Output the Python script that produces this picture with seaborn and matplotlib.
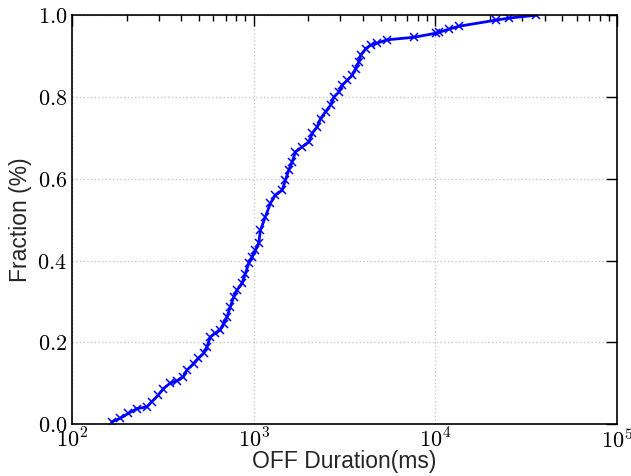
import math
import matplotlib
matplotlib.use('Agg')
import matplotlib.pyplot as plt
import matplotlib.ticker as mticker
import pandas as pd
import seaborn as sns

# OFF durations (ms) and cumulative fraction
off_ms = [166, 184, 204, 228, 258, 275, 299, 319, 347, 378, 411, 429, 467,
          497, 530, 553, 577, 615, 655, 683, 713, 744, 776, 810, 863, 900,
          938, 980, 1022, 1066, 1089, 1160, 1236, 1317, 1435, 1496, 1560,
          1629, 1698, 1849, 2011, 2100, 2238, 2333, 2486, 2649, 2763, 2945,
          3073, 3275, 3488, 3637, 3793, 3877, 4131, 4401, 4792, 5442,
          7601, 10050, 10440, 11860, 13460, 21540, 25400, 35800]
fraction = [0.006, 0.014, 0.026, 0.038, 0.042, 0.055, 0.071, 0.087, 0.100,
            0.106, 0.116, 0.132, 0.148, 0.161, 0.173, 0.189, 0.213, 0.222,
            0.230, 0.246, 0.262, 0.287, 0.311, 0.328, 0.344, 0.368, 0.393,
            0.409, 0.425, 0.442, 0.474, 0.507, 0.540, 0.560, 0.572, 0.597,
            0.621, 0.641, 0.666, 0.678, 0.690, 0.711, 0.727, 0.747, 0.764,
            0.780, 0.800, 0.812, 0.829, 0.841, 0.853, 0.869, 0.886, 0.902,
            0.918, 0.927, 0.932, 0.940, 0.946, 0.956, 0.958, 0.966, 0.973,
            0.988, 0.993, 1.0]

df = pd.DataFrame({'off': off_ms, 'frac': fraction})

sns.set_style('white')
plt.rcParams['mathtext.fontset'] = 'cm'
plt.rcParams['font.family'] = ['Liberation Sans', 'DejaVu Sans']
plt.rcParams['xtick.direction'] = 'in'
plt.rcParams['ytick.direction'] = 'in'

fig, ax = plt.subplots(figsize=(6.31, 4.76), dpi=100)
fig.subplots_adjust(left=0.114, right=0.978, top=0.968, bottom=0.109)

sns.lineplot(data=df, x='off', y='frac', ax=ax, color='#0000ff', linewidth=2,
             marker='x', markersize=6, markeredgewidth=1.1,
             markeredgecolor='#0000ff', sort=False, estimator=None)

ax.set_xscale('log')
ax.set_xlim(1e2, 1e5)
ax.set_ylim(0, 1.0)
ax.xaxis.set_major_locator(mticker.LogLocator(base=10, numticks=10))
ax.xaxis.set_minor_locator(mticker.LogLocator(base=10, subs=range(2, 10), numticks=50))
ax.xaxis.set_major_formatter(mticker.FuncFormatter(lambda v, p: r'$10^{%d}$' % round(math.log10(v))))
ax.xaxis.set_minor_formatter(mticker.NullFormatter())
ax.yaxis.set_major_locator(mticker.MultipleLocator(0.2))
ax.yaxis.set_major_formatter(mticker.FuncFormatter(lambda v, p: r'$%.1f$' % v))

ax.tick_params(which='both', top=True, right=True, labelsize=16, colors='black')
ax.tick_params(which='major', length=8, width=1)
ax.tick_params(which='minor', length=4, width=1)
for s in ax.spines.values():
    s.set_color('black')
    s.set_linewidth(1.2)

ax.grid(True, which='major', linestyle=':', color='#c8c8c8', linewidth=1)

ax.set_xlabel('OFF Duration(ms)', fontsize=16.5, labelpad=-2)
ax.set_ylabel('Fraction (%)', fontsize=16.5, labelpad=4)

fig.savefig('out.png', dpi=100)
